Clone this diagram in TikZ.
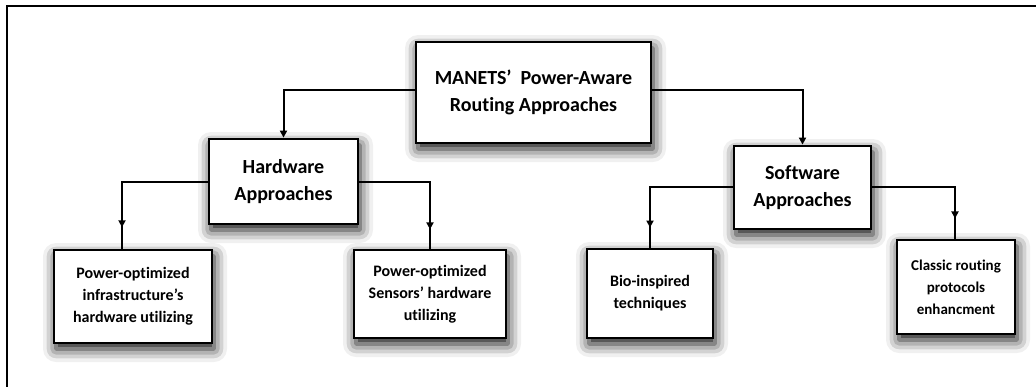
\documentclass[tikz,border=0pt]{standalone}
\usepackage{fontspec}
\setmainfont{Carlito}[RawFeature=-liga]
\usetikzlibrary{shadows.blur,arrows.meta,decorations.markings}
\begin{document}
\begin{tikzpicture}[x=1pt,y=-1pt,
  box/.style={draw=black,line width=2.8pt,fill=white,align=center,inner sep=0pt,
    font=\bfseries,
    blur shadow={shadow xshift=2pt,shadow yshift=-6pt,shadow blur radius=13pt,shadow opacity=95}},
  big/.style={font=\bfseries\fontsize{20}{27.5}\selectfont},
  small/.style={font=\bfseries\fontsize{#1}{22}\selectfont},
  conn/.style={line width=2pt,draw=black},
  tipmark/.style={postaction={decorate,decoration={markings,
    mark=at position #1 with {\arrow{Triangle[length=7pt,width=7pt]}}}}}
]
\useasboundingbox (0,0) rectangle (1036,386);
\begin{scope}
\clip (0,0) rectangle (1036,386);
\draw[line width=2.4pt] (7,400) -- (7,6) -- (1050,6);
\end{scope}

\coordinate (c1) at (122,182);
\coordinate (c2) at (430,182);
\coordinate (c3) at (650,187);
\coordinate (c4) at (955,187);

\node[box,big,minimum width=235pt,minimum height=101pt] (top) at (533.5,92.5) {MANETS’\ \ Power-Aware\\Routing Approaches};
\node[box,big,minimum width=149pt,minimum height=85pt] (hw) at (283.5,181.5) {Hardware\\Approaches};
\node[box,big,minimum width=137pt,minimum height=83pt] (sw) at (802.5,187.5) {Software\\Approaches};

\node[box,small=16,minimum width=158pt,minimum height=93pt] (h1) at (133,296.5) {Power-optimized\\infrastructure’s\\hardware utilizing};
\node[box,small=16,minimum width=152pt,minimum height=88pt] (h2) at (430,294) {Power-optimized\\Sensors’ hardware\\utilizing};
\node[box,small=16,minimum width=126pt,minimum height=89pt] (s1) at (650,293.5) {Bio-inspired\\techniques};
\node[box,small=15,minimum width=118pt,minimum height=94pt] (s2) at (956,287) {Classic routing\\protocols\\enhancment};

\draw[conn,-{Triangle[length=7pt,width=7pt]}] (top.west |- 0,90) -| (hw.north);
\draw[conn,-{Triangle[length=7pt,width=7pt]}] (top.east |- 0,90) -| (sw.north);
\draw[conn,tipmark=0.86] (hw.west |- c1) -- (c1) -- (c1 |- h1.north);
\draw[conn,tipmark=0.86] (hw.east |- c2) -- (c2) -- (h2.north);
\draw[conn,tipmark=0.86] (sw.west |- c3) -- (c3) -- (s1.north);
\draw[conn,tipmark=0.85] (sw.east |- c4) -- (c4) -- (c4 |- s2.north);
\end{tikzpicture}
\end{document}
